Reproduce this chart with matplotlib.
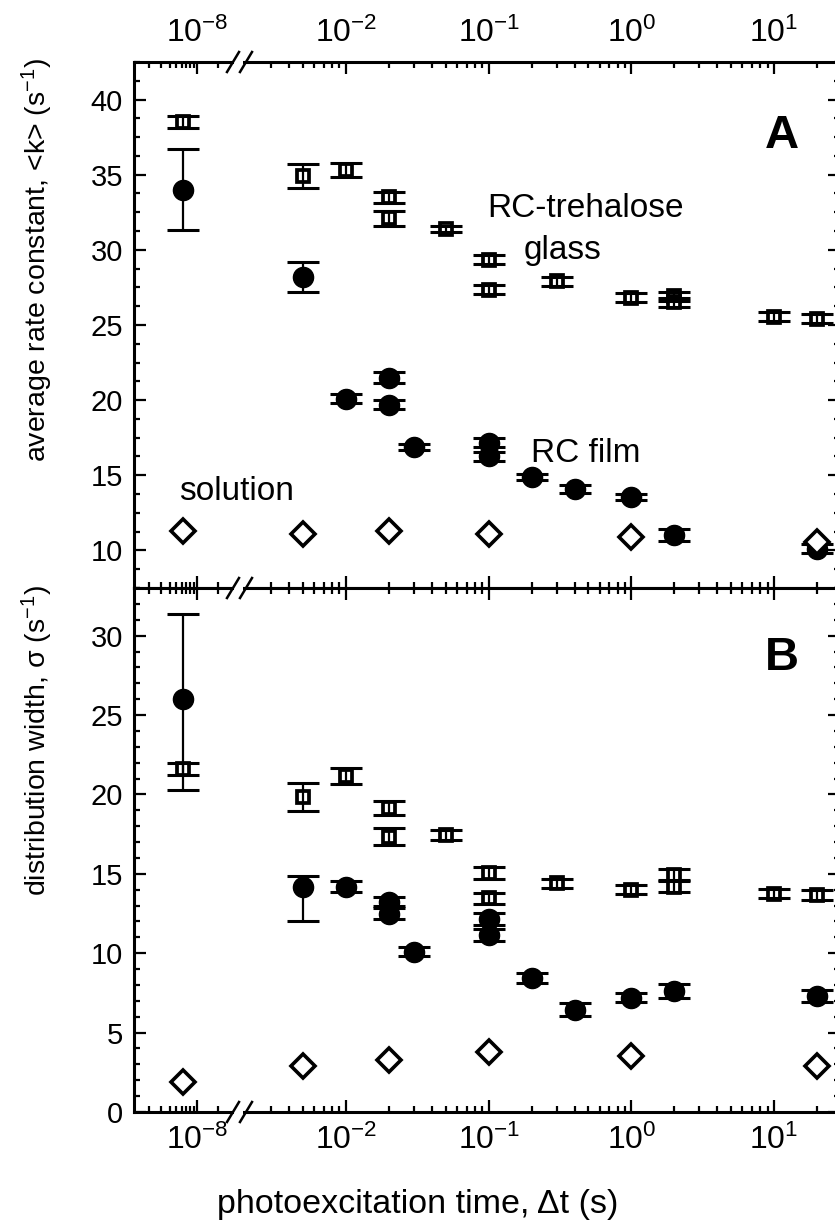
import numpy as np
import matplotlib
matplotlib.use('Agg')
import matplotlib.pyplot as plt
from matplotlib.ticker import FixedLocator, FixedFormatter, MultipleLocator
from matplotlib.lines import Line2D
from matplotlib.patches import Rectangle

plt.rcParams['font.family'] = ['Liberation Sans', 'DejaVu Sans']
plt.rcParams['mathtext.fontset'] = 'custom'
plt.rcParams['mathtext.rm'] = 'Liberation Sans'
plt.rcParams['mathtext.it'] = 'Liberation Sans:italic'
plt.rcParams['mathtext.bf'] = 'Liberation Sans:bold'

# ---------------- data ----------------
# Panel A: average rate constant <k>
t_glass = [6.3e-9, 5e-3, 1e-2, 2e-2, 2e-2, 5e-2, 0.1, 0.1, 0.3, 1, 2, 2, 10, 20]
k_glass = [38.5, 34.9, 35.3, 33.5, 32.1, 31.4, 29.35, 27.35, 27.9, 26.8, 26.9, 26.5, 25.55, 25.4]
k_glass_err = [0.4, 0.8, 0.45, 0.35, 0.5, 0.2, 0.3, 0.3, 0.3, 0.3, 0.3, 0.3, 0.3, 0.3]

t_film = [6.3e-9, 5e-3, 1e-2, 2e-2, 2e-2, 3e-2, 0.1, 0.1, 0.2, 0.4, 1, 2, 20]
k_film = [34.0, 28.2, 20.1, 21.5, 19.7, 16.9, 17.15, 16.25, 14.9, 14.1, 13.55, 11.0, 10.1]
k_film_err = [2.7, 1.0, 0.3, 0.35, 0.3, 0.2, 0.3, 0.3, 0.2, 0.25, 0.2, 0.4, 0.3]

t_sol = [6.3e-9, 5e-3, 2e-2, 0.1, 1, 20]
k_sol = [11.3, 11.1, 11.3, 11.1, 10.9, 10.55]

# Panel B: distribution width sigma
s_glass = [21.6, 19.85, 21.15, 19.15, 17.35, 17.45, 15.05, 13.45, 14.4, 14.0, 14.95, 14.2, 13.75, 13.65]
s_glass_err = [0.4, 0.9, 0.5, 0.45, 0.55, 0.3, 0.35, 0.35, 0.3, 0.3, 0.35, 0.35, 0.3, 0.3]

s_film = [26.0, 14.15, 14.2, 13.25, 12.5, 10.1, 12.15, 11.15, 8.45, 6.45, 7.2, 7.6, 7.3]
s_film_err_lo = [5.7, 2.15, 0.35, 0.3, 0.35, 0.3, 0.4, 0.4, 0.3, 0.4, 0.3, 0.45, 0.4]
s_film_err_hi = [5.35, 0.7, 0.35, 0.3, 0.35, 0.3, 0.4, 0.4, 0.3, 0.4, 0.3, 0.45, 0.4]

s_sol = [1.9, 2.9, 3.25, 3.8, 3.5, 2.9]

xmajor = [1e-8, 1e-2, 1e-1, 1, 10]
xmajor_labels = [r'$\mathrm{10^{-8}}$', r'$\mathrm{10^{-2}}$', r'$\mathrm{10^{-1}}$',
                 r'$\mathrm{10^{0}}$', r'$\mathrm{10^{1}}$']
xminor = ([m * 1e-9 for m in range(2, 10)] + [2e-8] +
          [m * 1e-3 for m in range(3, 10)] + [m * 1e-2 for m in range(2, 10)] +
          [m * 1e-1 for m in range(2, 10)] + [m * 1.0 for m in range(2, 10)] + [20])

# ---------------- broken log scale ----------------
W, H = 835, 1232
AX_L, AX_R = 134, 840
# left segment: decade = 68.5 px, 1e-8 at 197 px; right: decade = 142.7 px, 1e-2 at 346 px
Lk = np.array([-30.0, -7.52, -2.73, 30.0])
Uk = np.array([197 + (-30 + 8) * 68.5, 197 + (-7.52 + 8) * 68.5,
               346 + (-2.73 + 2) * 142.7, 346 + (30 + 2) * 142.7])


def fwd(x):
    x = np.asarray(x, dtype=float)
    L = np.log10(np.clip(x, 1e-300, None))
    return np.interp(L, Lk, Uk)


def inv(u):
    u = np.asarray(u, dtype=float)
    return 10 ** np.interp(u, Uk, Lk)


xmin = float(inv(AX_L))
xmax = float(inv(AX_R))

fig = plt.figure(figsize=(W / 100, H / 100), dpi=100)
axA = fig.add_axes([AX_L / W, 1 - 588 / H, (AX_R - AX_L) / W, 526 / H])
axB = fig.add_axes([AX_L / W, 1 - 1112 / H, (AX_R - AX_L) / W, 524 / H])

eb_kw = dict(fmt='none', ecolor='black', elinewidth=1.6, capsize=11.5, capthick=2.2, zorder=4)


def draw(ax, yg, yge, yf, yfe, ys):
    ax.set_xscale('function', functions=(fwd, inv))
    ax.plot(t_glass, yg, ls='none', marker='s', ms=9, mfc='white', mec='black', mew=2.7, zorder=3)
    ax.plot(t_film, yf, ls='none', marker='o', ms=14.5, mfc='black', mec='black', mew=1, zorder=3)
    ax.errorbar(t_glass, yg, yerr=yge, **eb_kw)
    ax.errorbar(t_film, yf, yerr=yfe, **eb_kw)
    ax.plot(t_sol, ys, ls='none', marker='D', ms=12, mfc='white', mec='black', mew=2.6, zorder=5)
    ax.set_xlim(xmin, xmax)
    ax.xaxis.set_major_locator(FixedLocator(xmajor))
    ax.xaxis.set_major_formatter(FixedFormatter(xmajor_labels))
    ax.xaxis.set_minor_locator(FixedLocator(xminor))
    ax.xaxis.set_minor_formatter(FixedFormatter([''] * len(xminor)))
    ax.tick_params(which='both', direction='in', top=True, bottom=True, left=True, right=True, width=1.6)
    ax.tick_params(which='major', length=8.5)
    ax.tick_params(which='minor', length=4.5)
    ax.tick_params(axis='x', labelsize=23, pad=9)
    ax.tick_params(axis='y', labelsize=21, pad=8)
    for s in ax.spines.values():
        s.set_linewidth(2.2)


draw(axA, k_glass, k_glass_err, k_film, k_film_err, k_sol)
draw(axB, s_glass, s_glass_err, s_film, [s_film_err_lo, s_film_err_hi], s_sol)

axA.set_ylim(7.5, 42.5)
axA.set_yticks([10, 15, 20, 25, 30, 35, 40])
axA.yaxis.set_minor_locator(MultipleLocator(1.25))
axA.tick_params(axis='x', labeltop=True, labelbottom=False)

axB.set_ylim(0, 33)
axB.set_yticks([0, 5, 10, 15, 20, 25, 30])
axB.yaxis.set_minor_locator(MultipleLocator(1))
axB.tick_params(axis='x', labeltop=False, labelbottom=True)

# annotations
axA.text(0.640, 0.705, 'RC-trehalose', transform=axA.transAxes, ha='center', va='baseline', fontsize=24)
axA.text(0.6076, 0.6255, 'glass', transform=axA.transAxes, ha='center', va='baseline', fontsize=24)
axA.text(0.640, 0.2395, 'RC film', transform=axA.transAxes, ha='center', va='baseline', fontsize=24)
axA.text(0.1445, 0.167, 'solution', transform=axA.transAxes, ha='center', va='baseline', fontsize=24)
axA.text(0.917, 0.8365, 'A', transform=axA.transAxes, ha='center', va='baseline', fontsize=34, fontweight='bold')
axB.text(0.917, 0.8435, 'B', transform=axB.transAxes, ha='center', va='baseline', fontsize=34, fontweight='bold')

fig.text(37 / W, 1 - 260 / H, 'average rate constant, <k> (s$^{-1}$)', rotation=90,
         ha='center', va='center', fontsize=20.5)
fig.text(37 / W, 1 - 741 / H, r'distribution width, σ (s$^{-1}$)', rotation=90,
         ha='center', va='center', fontsize=20.5)
fig.text(418 / W, 1 - 1205 / H, 'photoexcitation time, Δt (s)', ha='center', va='center', fontsize=24.5)


# axis break marks
def P(px, py):
    return px / W, 1 - py / H


for py in (62, 588, 1112):
    fig.patches.append(Rectangle(P(234, py + 3), 9 / W, 6 / H, transform=fig.transFigure,
                                 facecolor='white', edgecolor='none', zorder=10))
    for cx in (233, 246):
        (x0, y0), (x1, y1) = P(cx - 6, py + 10), P(cx + 6, py - 10)
        fig.lines.append(Line2D([x0, x1], [y0, y1], transform=fig.transFigure,
                                color='black', lw=1.8, zorder=11))

fig.savefig('out.png', dpi=100)
